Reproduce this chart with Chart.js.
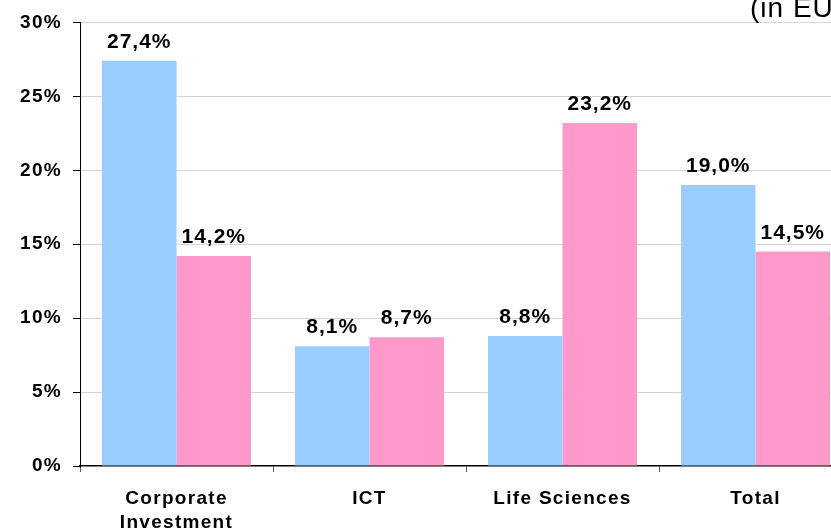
<!DOCTYPE html>
<html>
<head>
<meta charset="utf-8">
<script src="https://cdn.jsdelivr.net/npm/chart.js@4.4.1/dist/chart.umd.min.js"></script>
<style>
    html, body { margin: 0; padding: 0; background: #fff; }
    body { width: 831px; height: 531px; overflow: hidden; }
    #wrap { width: 852px; height: 531px; }
</style>
</head>
<body>
<div id="wrap"><canvas id="chart" width="852" height="531"></canvas></div>
<script>
// --- Datos ---
const categories = [['Corporate', 'Investment'], 'ICT', 'Life Sciences', 'Total'];
const seriesBlue = [27.4, 8.1, 8.8, 19.0];
const seriesPink = [14.2, 8.7, 23.2, 14.5];
const yTicks = [0, 5, 10, 15, 20, 25, 30];
const cornerNote = '(in EUR)';

const FONT = 'Arial, "Liberation Sans", sans-serif';
const fmt = v => v.toFixed(1).replace('.', ',') + '%';

// El original tiene el texto algo espaciado
const spacing = {
    id: 'spacing',
    beforeLayout(chart) { chart.ctx.letterSpacing = '1.3px'; },
    beforeDraw(chart) { chart.ctx.letterSpacing = '1.3px'; }
};

// Etiquetas encima de cada barra
const valueLabels = {
    id: 'valueLabels',
    afterDatasetsDraw(chart) {
        const ctx = chart.ctx;
        ctx.save();
        ctx.letterSpacing = '1px';
        ctx.font = 'bold 21px ' + FONT;
        ctx.fillStyle = '#000';
        ctx.textAlign = 'center';
        ctx.textBaseline = 'alphabetic';
        chart.data.datasets.forEach((ds, i) => {
            chart.getDatasetMeta(i).data.forEach((bar, j) => {
                ctx.fillText(fmt(ds.data[j]), bar.x, bar.y - 13);
            });
        });
        ctx.restore();
    }
};

// Nota de la esquina (cortada en el original)
const cornerText = {
    id: 'cornerText',
    afterDraw(chart) {
        const ctx = chart.ctx;
        ctx.save();
        ctx.letterSpacing = '1px';
        ctx.font = '28px ' + FONT;
        ctx.fillStyle = '#000';
        ctx.textAlign = 'left';
        ctx.textBaseline = 'alphabetic';
        ctx.fillText(cornerNote, 750, 17);
        ctx.restore();
    }
};

new Chart(document.getElementById('chart'), {
    type: 'bar',
    data: {
        labels: categories,
        datasets: [
            { data: seriesBlue, backgroundColor: '#99CCFF' },
            { data: seriesPink, backgroundColor: '#FF99CC' }
        ]
    },
    options: {
        responsive: false,
        animation: false,
        layout: { padding: { top: 22, right: 0, left: 0, bottom: 0 } },
        categoryPercentage: 0.772,
        barPercentage: 1,
        plugins: {
            legend: { display: false },
            tooltip: { enabled: false }
        },
        scales: {
            x: {
                grid: {
                    offset: true,
                    drawOnChartArea: false,
                    tickLength: 6,
                    tickColor: '#555'
                },
                border: { color: '#000', width: 1.5 },
                ticks: {
                    color: '#000',
                    padding: 14,
                    font: { family: FONT, size: 19, weight: 'bold', lineHeight: 1.3 }
                },
                afterFit: (scale) => { scale.height = 65; }
            },
            y: {
                min: 0,
                max: 30,
                afterBuildTicks: (scale) => { scale.ticks = yTicks.map(v => ({ value: v })); },
                grid: {
                    color: (c) => c.tick && c.tick.value === 0 ? 'rgba(0,0,0,0)' : '#d4d4d4',
                    tickColor: '#000',
                    tickLength: 7
                },
                border: { color: '#000', width: 1 },
                ticks: {
                    color: '#000',
                    padding: 11,
                    callback: (v) => v + '%',
                    font: { family: FONT, size: 19, weight: 'bold' }
                },
                afterFit: (scale) => { scale.width = 80; }
            }
        }
    },
    plugins: [spacing, valueLabels, cornerText]
});
</script>
</body>
</html>
